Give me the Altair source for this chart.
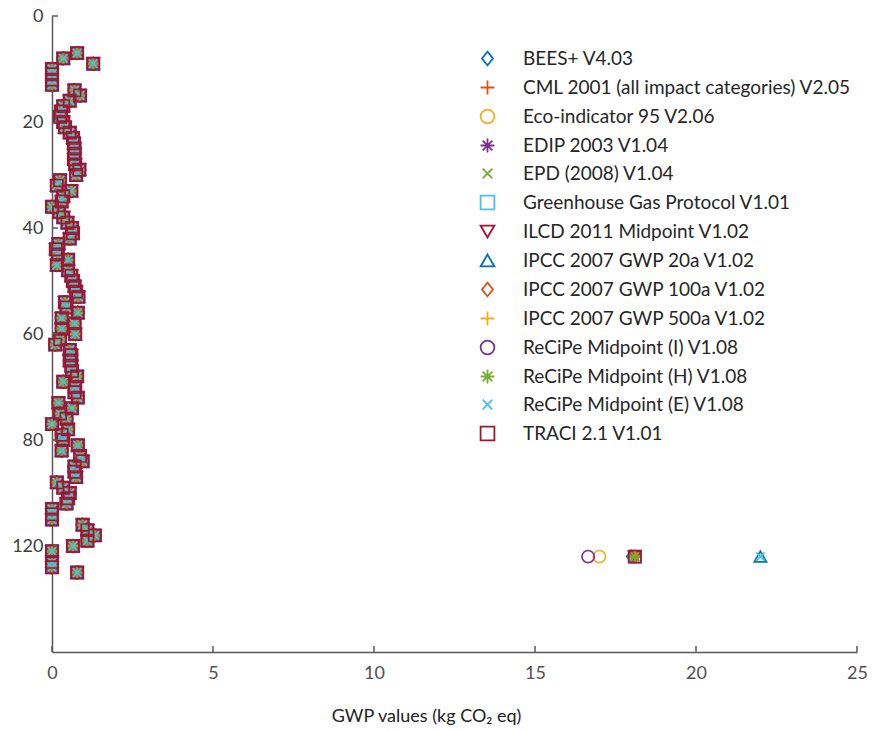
import altair as alt
import pandas as pd

METHODS = [
    "BEES+ V4.03",
    "CML 2001 (all impact categories) V2.05",
    "Eco-indicator 95 V2.06",
    "EDIP 2003 V1.04",
    "EPD (2008) V1.04",
    "Greenhouse Gas Protocol V1.01",
    "ILCD 2011 Midpoint V1.02",
    "IPCC 2007 GWP 20a V1.02",
    "IPCC 2007 GWP 100a V1.02",
    "IPCC 2007 GWP 500a V1.02",
    "ReCiPe Midpoint (I) V1.08",
    "ReCiPe Midpoint (H) V1.08",
    "ReCiPe Midpoint (E) V1.08",
    "TRACI 2.1 V1.01",
]

# row position (y) and GWP value (x) shared by all methods
ROW_Y = [7, 8, 9, 10, 11, 12, 13, 14, 15, 16, 17, 18, 19, 20, 21, 22, 23, 24, 25, 26,
         27, 28, 29, 30, 31, 32, 33, 34, 35, 36, 37, 38, 39, 40, 41, 42, 43, 44, 45, 46,
         47, 48, 49, 50, 51, 52, 53, 54, 55, 56, 57, 58, 59, 60, 61, 62, 63, 64, 65, 66,
         67, 68, 69, 70, 71, 72, 73, 74, 75, 76, 77, 78, 79, 80, 81, 82, 83, 84, 85, 86,
         87, 88, 89, 90, 91, 92, 93, 94, 95, 96, 97, 98, 99, 100, 101, 103, 104, 105]
ROW_X = [0.78, 0.35, 1.28, 0, 0, 0, 0, 0.7, 0.87, 0.55, 0.35, 0.28, 0.25, 0.35, 0.4, 0.55, 0.65, 0.68, 0.7, 0.7,
         0.68, 0.72, 0.85, 0.75, 0.25, 0.15, 0.6, 0.35, 0.3, 0.0, 0.22, 0.35, 0.48, 0.62, 0.65, 0.55, 0.2, 0.12, 0.18, 0.5,
         0.15, 0.5, 0.6, 0.65, 0.7, 0.75, 0.82, 0.4, 0.45, 0.8, 0.3, 0.7, 0.3, 0.72, 0.25, 0.1, 0.55, 0.6, 0.55, 0.6,
         0.62, 0.78, 0.35, 0.72, 0.7, 0.8, 0.2, 0.62, 0.25, 0.45, 0.0, 0.5, 0.3, 0.35, 0.8, 0.3, 0.87, 0.95, 0.7, 0.7,
         0.75, 0.15, 0.35, 0.55, 0.5, 0.45, 0, 0, 0, 0.95, 1.1, 1.33, 1.1, 0.65, 0, 0, 0, 0.78]

# the one row where methods differ
OUTLIER_Y = 102
OUTLIER_X = [18.0, 18.1, 17.0, 18.1, 18.1, 18.1, 18.1, 22.0, 18.1, 18.1, 16.65, 18.1, 22.0, 18.1]

X_TICKS = [0, 5, 10, 15, 20, 25]
Y_TICKS = [0, 20, 40, 60, 80, 100]

# styles
COLORS = ["#0072BD", "#D95319", "#EDB120", "#7E2F8E", "#77AC30", "#4DBEEE", "#A2142F",
          "#0072BD", "#D95319", "#EDB120", "#7E2F8E", "#77AC30", "#4DBEEE", "#A2142F"]
DIAMOND = "M0,-1L0.8,0L0,1L-0.8,0Z"
PLUS = "M-1,0L1,0M0,-1L0,1"
CROSS = "M-0.7,-0.7L0.7,0.7M-0.7,0.7L0.7,-0.7"
STAR = "M-1,0L1,0M0,-1L0,1M-0.7,-0.7L0.7,0.7M-0.7,0.7L0.7,-0.7"
SHAPES = [DIAMOND, PLUS, "circle", STAR, CROSS, "square", "triangle-down",
          "triangle-up", DIAMOND, PLUS, "circle", STAR, CROSS, "square"]

FONT = "Lato"
AXIS_COLOR = "#595959"

records = []
for i, m in enumerate(METHODS):
    for y, x in zip(ROW_Y, ROW_X):
        records.append({"method": m, "row": y, "gwp": x, "order": i})
    records.append({"method": m, "row": OUTLIER_Y, "gwp": OUTLIER_X[i], "order": i})
df = pd.DataFrame(records)

x_scale = alt.Scale(domain=[0, 25], nice=False, zero=False)
y_scale = alt.Scale(domain=[0, 120], nice=False, zero=False, reverse=True)


def x_enc(field):
    return alt.X(field, type="quantitative", scale=x_scale,
                 axis=alt.Axis(values=X_TICKS, title="GWP values (kg CO\u2082 eq)", grid=False,
                               ticks=False, tickSize=0, labelPadding=12, labelFlush=False,
                               labelFont=FONT, labelFontSize=18, labelColor="#505050",
                               domainColor=AXIS_COLOR, domainWidth=1.5,
                               titleFont=FONT, titleFontSize=18, titleFontWeight="normal",
                               titleColor="#222222", titleX=374, titleY=64,
                               titleAlign="center", titleBaseline="middle"))


def y_enc(field):
    return alt.Y(field, type="quantitative", scale=y_scale,
                 axis=alt.Axis(values=Y_TICKS, title=None, grid=False, ticks=False, tickSize=0,
                               labelPadding=9, labelFlush=False,
                               labelExpr="datum.value == 100 ? '120' : datum.label",
                               labelFont=FONT, labelFontSize=18, labelColor="#404040",
                               domainColor=AXIS_COLOR, domainWidth=1.5))


legend = alt.Legend(title=None, orient="none", legendX=426, legendY=33, padding=0,
                    rowPadding=8, labelOffset=26, labelFont=FONT, labelFontSize=19,
                    labelColor="#262626", labelLimit=600, symbolSize=190,
                    symbolStrokeWidth=1.8, symbolOpacity=1)

points = alt.Chart(df).mark_point(filled=False, opacity=1, size=150, strokeWidth=1.7).encode(
    x=x_enc("gwp"),
    y=y_enc("row"),
    color=alt.Color("method:N", scale=alt.Scale(domain=METHODS, range=COLORS), legend=legend),
    shape=alt.Shape("method:N", scale=alt.Scale(domain=METHODS, range=SHAPES), legend=legend),
    order=alt.Order("order:Q"),
)

xt = alt.Chart(pd.DataFrame({"gwp": X_TICKS})).mark_rule(color=AXIS_COLOR, strokeWidth=1.5).encode(
    x=x_enc("gwp"), y=alt.value(630), y2=alt.value(636)
)
yt = alt.Chart(pd.DataFrame({"row": Y_TICKS})).mark_rule(color=AXIS_COLOR, strokeWidth=1.5).encode(
    y=y_enc("row"), x=alt.value(0), x2=alt.value(6)
)

chart = alt.layer(points, xt, yt).properties(
    width=805, height=636,
    padding={"left": 52, "top": 16, "right": 18, "bottom": 79},
    autosize=alt.AutoSizeParams(type="none"),
    background="white",
).configure_view(stroke=None)

chart.save("out.html", embed_options={"renderer": "svg", "actions": False})
